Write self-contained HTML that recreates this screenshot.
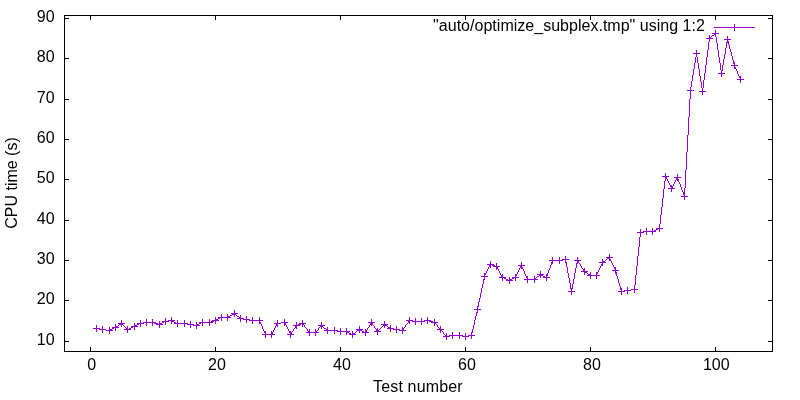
<!DOCTYPE html>
<html><head><meta charset="utf-8"><title>optimize_subplex</title>
<style>
html,body{margin:0;padding:0;background:#fff;}
svg{display:block;}
text{font-family:"Liberation Sans",Arial,sans-serif;font-size:16px;fill:#000;}
</style></head><body>
<svg width="800" height="400" viewBox="0 0 800 400">
<rect x="0" y="0" width="800" height="400" fill="#fff"/>
<g shape-rendering="crispEdges" stroke="#000" stroke-width="1" fill="none">
<rect x="64.5" y="15.5" width="708" height="336"/>
<path d="M64.5 341.5H69 M768 341.5H772.5"/>
<path d="M64.5 300.5H69 M768 300.5H772.5"/>
<path d="M64.5 260.5H69 M768 260.5H772.5"/>
<path d="M64.5 220.5H69 M768 220.5H772.5"/>
<path d="M64.5 179.5H69 M768 179.5H772.5"/>
<path d="M64.5 139.5H69 M768 139.5H772.5"/>
<path d="M64.5 99.5H69 M768 99.5H772.5"/>
<path d="M64.5 58.5H69 M768 58.5H772.5"/>
<path d="M64.5 18.5H69 M768 18.5H772.5"/>
<path d="M90.5 351.5V347 M90.5 15.5V20"/>
<path d="M215.5 351.5V347 M215.5 15.5V20"/>
<path d="M340.5 351.5V347 M340.5 15.5V20"/>
<path d="M465.5 351.5V347 M465.5 15.5V20"/>
<path d="M590.5 351.5V347 M590.5 15.5V20"/>
<path d="M715.5 351.5V347 M715.5 15.5V20"/>
</g>
<g text-anchor="end">
<text x="54.6" y="344.5">10</text>
<text x="54.6" y="303.5">20</text>
<text x="54.6" y="263.5">30</text>
<text x="54.6" y="223.5">40</text>
<text x="54.6" y="182.5">50</text>
<text x="54.6" y="142.5">60</text>
<text x="54.6" y="102.5">70</text>
<text x="54.6" y="61.5">80</text>
<text x="54.6" y="21.5">90</text>
</g>
<g text-anchor="middle">
<text x="91.6" y="369.5">0</text>
<text x="216.9" y="369.5">20</text>
<text x="341.9" y="369.5">40</text>
<text x="466.9" y="369.5">60</text>
<text x="591.9" y="369.5">80</text>
<text x="716.3" y="369.5">100</text>
<text x="373.1" y="391.5" text-anchor="start" textLength="89.5" lengthAdjust="spacing">Test number</text>
<text transform="translate(16.5,183) rotate(-90)">CPU time (s)</text>
</g>
<text x="433.1" y="30.5" textLength="271.8" lengthAdjust="spacing">"auto/optimize_subplex.tmp" using 1:2</text>
<g shape-rendering="crispEdges" stroke="#9400d3" stroke-width="1" fill="none">
<path d="M714 27.5H755"/>
<path d="M714 34.5h2M712 35.5h2M727 41.5h2M721 70.5h2M665 177.5h2M665 178.5h2M676 178.5h2M671 187.5h2M683 192.5h2M683 193.5h2M683 194.5h2M658 228.5h2M656 229.5h2M654 230.5h2M643 231.5h11M640 232.5h3M607 258.5h3M562 259.5h4M552 260.5h10M577 261.5h2M603 261.5h2M577 262.5h2M490 264.5h2M492 265.5h3M495 266.5h2M520 266.5h2M585 272.5h2M588 274.5h2M541 275.5h2M590 275.5h7M537 276.5h2M543 276.5h2M502 277.5h2M514 277.5h2M545 277.5h2M504 278.5h2M512 278.5h2M506 279.5h2M510 279.5h2M527 279.5h8M508 280.5h2M631 289.5h4M624 290.5h7M621 291.5h3M232 314.5h2M230 315.5h2M228 316.5h2M237 316.5h2M220 317.5h8M218 318.5h2M240 318.5h3M216 319.5h2M243 319.5h6M168 320.5h4M214 320.5h2M249 320.5h11M409 320.5h3M424 320.5h5M164 321.5h4M172 321.5h2M211 321.5h3M412 321.5h12M429 321.5h4M143 322.5h11M162 322.5h2M174 322.5h2M201 322.5h10M281 322.5h4M433 322.5h2M139 323.5h4M154 323.5h4M160 323.5h2M176 323.5h11M199 323.5h2M277 323.5h4M301 323.5h2M119 324.5h2M137 324.5h2M158 324.5h2M187 324.5h6M197 324.5h2M298 324.5h3M135 325.5h2M193 325.5h4M296 325.5h2M385 325.5h2M116 326.5h2M133 326.5h2M114 327.5h2M131 327.5h2M388 327.5h2M96 328.5h3M112 328.5h2M129 328.5h2M324 328.5h2M390 328.5h3M99 329.5h7M110 329.5h2M127 329.5h2M393 329.5h6M106 330.5h4M327 330.5h10M357 330.5h2M360 330.5h2M399 330.5h4M337 331.5h10M362 331.5h2M309 332.5h7M347 332.5h2M364 332.5h2M290 333.5h2M349 333.5h2M353 333.5h2M265 334.5h7M351 334.5h2M449 335.5h13M468 335.5h4M446 336.5h3M462 336.5h6M118.5 325v1M121.5 323v1M122.5 324v1M123.5 325v1M124.5 326v1M125.5 327v1M126.5 328v1M234.5 313v1M235.5 314v1M236.5 315v1M239.5 317v1M259.5 321v1M260.5 322v2M261.5 324v2M262.5 326v3M263.5 329v2M264.5 331v2M265.5 333v1M272.5 332v2M273.5 330v2M274.5 328v2M275.5 326v2M276.5 324v2M285.5 323v2M286.5 325v2M287.5 327v2M288.5 329v2M289.5 331v2M290.5 334v1M291.5 332v1M292.5 331v1M293.5 329v2M294.5 328v1M295.5 326v2M303.5 324v1M304.5 325v2M305.5 327v1M306.5 328v1M307.5 329v2M308.5 331v1M316.5 331v1M317.5 330v1M318.5 328v2M319.5 327v1M320.5 326v1M321.5 325v1M322.5 326v1M323.5 327v1M326.5 329v1M355.5 332v1M356.5 331v1M359.5 329v1M366.5 330v2M367.5 328v2M368.5 327v1M369.5 325v2M370.5 323v2M371.5 322v1M372.5 323v2M373.5 325v1M374.5 326v2M375.5 328v1M376.5 329v2M377.5 331v1M378.5 330v1M379.5 329v1M380.5 328v1M381.5 327v1M382.5 326v1M383.5 325v1M384.5 324v1M387.5 326v1M403.5 328v2M404.5 327v1M405.5 325v2M406.5 324v1M407.5 323v1M408.5 321v2M435.5 323v1M436.5 324v1M437.5 325v2M438.5 327v1M439.5 328v1M440.5 329v1M441.5 330v1M442.5 331v1M443.5 332v2M444.5 334v1M445.5 335v1M471.5 333v2M472.5 329v4M473.5 325v4M474.5 320v5M475.5 316v4M476.5 312v4M477.5 307v5M478.5 302v5M479.5 298v4M480.5 293v5M481.5 288v5M482.5 284v4M483.5 279v5M484.5 275v4M485.5 273v2M486.5 271v2M487.5 269v2M488.5 267v2M489.5 265v2M497.5 267v2M498.5 269v2M499.5 271v2M500.5 273v2M501.5 275v2M515.5 276v1M516.5 274v2M517.5 272v2M518.5 270v2M519.5 268v2M520.5 267v1M521.5 265v1M522.5 267v2M523.5 269v2M524.5 271v3M525.5 274v2M526.5 276v2M527.5 278v1M535.5 278v1M536.5 277v1M539.5 275v1M540.5 274v1M546.5 276v1M547.5 273v3M548.5 270v3M549.5 268v2M550.5 265v3M551.5 262v3M552.5 261v1M565.5 260v2M566.5 262v5M567.5 267v6M568.5 273v5M569.5 278v5M570.5 283v6M571.5 289v3M572.5 284v5M573.5 279v5M574.5 273v6M575.5 268v5M576.5 263v5M577.5 260v1M579.5 263v1M580.5 264v2M581.5 266v2M582.5 268v1M583.5 269v2M584.5 271v1M587.5 273v1M596.5 274v1M597.5 272v2M598.5 270v2M599.5 268v2M600.5 266v2M601.5 264v2M602.5 262v2M605.5 260v1M606.5 259v1M609.5 257v1M610.5 259v2M611.5 261v2M612.5 263v2M613.5 265v2M614.5 267v2M615.5 269v3M616.5 272v4M617.5 276v3M618.5 279v4M619.5 283v3M620.5 286v4M621.5 290v1M634.5 285v4M635.5 275v10M636.5 266v9M637.5 256v10M638.5 247v9M639.5 237v10M640.5 233v4M659.5 224v4M660.5 215v9M661.5 207v8M662.5 198v9M663.5 189v9M664.5 181v8M665.5 176v1M665.5 179v2M667.5 179v2M668.5 181v2M669.5 183v2M670.5 185v2M671.5 188v1M672.5 186v1M673.5 184v2M674.5 182v2M675.5 180v2M676.5 179v1M677.5 177v1M678.5 179v3M679.5 182v2M680.5 184v3M681.5 187v3M682.5 190v2M684.5 188v4M684.5 195v2M685.5 170v18M686.5 152v18M687.5 135v17M688.5 117v18M689.5 99v18M690.5 87v12M691.5 81v6M692.5 75v6M693.5 69v6M694.5 63v6M695.5 57v6M696.5 53v4M697.5 57v6M698.5 63v6M699.5 69v7M700.5 76v6M701.5 82v6M702.5 88v4M703.5 80v8M704.5 73v7M705.5 65v8M706.5 57v8M707.5 50v7M708.5 42v8M709.5 38v4M710.5 37v1M711.5 36v1M715.5 33v1M715.5 35v2M716.5 37v6M717.5 43v7M718.5 50v7M719.5 57v6M720.5 63v7M721.5 71v3M722.5 65v5M723.5 59v6M724.5 54v5M725.5 48v6M726.5 42v6M727.5 39v2M728.5 42v3M729.5 45v4M730.5 49v3M731.5 52v4M732.5 56v4M733.5 60v4M734.5 64v3M735.5 67v2M736.5 69v2M737.5 71v3M738.5 74v2M739.5 76v2M740.5 78v2"/>
<path d="M93 328.5h7M96.5 325v7M99 329.5h7M102.5 326v7M106 330.5h7M109.5 327v7M112 327.5h7M115.5 324v7M118 323.5h7M121.5 320v7M124 329.5h7M127.5 326v7M131 326.5h7M134.5 323v7M137 323.5h7M140.5 320v7M143 322.5h7M146.5 319v7M149 322.5h7M152.5 319v7M156 324.5h7M159.5 321v7M162 321.5h7M165.5 318v7M168 320.5h7M171.5 317v7M174 323.5h7M177.5 320v7M181 323.5h7M184.5 320v7M187 324.5h7M190.5 321v7M193 325.5h7M196.5 322v7M199 322.5h7M202.5 319v7M206 322.5h7M209.5 319v7M212 320.5h7M215.5 317v7M218 317.5h7M221.5 314v7M224 317.5h7M227.5 314v7M231 313.5h7M234.5 310v7M237 318.5h7M240.5 315v7M243 319.5h7M246.5 316v7M249 320.5h7M252.5 317v7M256 320.5h7M259.5 317v7M262 334.5h7M265.5 331v7M268 334.5h7M271.5 331v7M274 323.5h7M277.5 320v7M281 322.5h7M284.5 319v7M287 334.5h7M290.5 331v7M293 325.5h7M296.5 322v7M299 323.5h7M302.5 320v7M306 332.5h7M309.5 329v7M312 332.5h7M315.5 329v7M318 325.5h7M321.5 322v7M324 330.5h7M327.5 327v7M331 330.5h7M334.5 327v7M337 331.5h7M340.5 328v7M343 331.5h7M346.5 328v7M349 334.5h7M352.5 331v7M356 329.5h7M359.5 326v7M362 332.5h7M365.5 329v7M368 322.5h7M371.5 319v7M374 331.5h7M377.5 328v7M381 324.5h7M384.5 321v7M387 328.5h7M390.5 325v7M393 329.5h7M396.5 326v7M399 330.5h7M402.5 327v7M406 320.5h7M409.5 317v7M412 321.5h7M415.5 318v7M418 321.5h7M421.5 318v7M424 320.5h7M427.5 317v7M431 322.5h7M434.5 319v7M437 329.5h7M440.5 326v7M443 336.5h7M446.5 333v7M449 335.5h7M452.5 332v7M456 335.5h7M459.5 332v7M462 336.5h7M465.5 333v7M468 335.5h7M471.5 332v7M474 309.5h7M477.5 306v7M481 276.5h7M484.5 273v7M487 264.5h7M490.5 261v7M493 266.5h7M496.5 263v7M499 277.5h7M502.5 274v7M506 280.5h7M509.5 277v7M512 277.5h7M515.5 274v7M518 265.5h7M521.5 262v7M524 279.5h7M527.5 276v7M531 279.5h7M534.5 276v7M537 274.5h7M540.5 271v7M543 277.5h7M546.5 274v7M549 260.5h7M552.5 257v7M556 260.5h7M559.5 257v7M562 259.5h7M565.5 256v7M568 291.5h7M571.5 288v7M574 260.5h7M577.5 257v7M581 271.5h7M584.5 268v7M587 275.5h7M590.5 272v7M593 275.5h7M596.5 272v7M599 262.5h7M602.5 259v7M606 257.5h7M609.5 254v7M612 270.5h7M615.5 267v7M618 291.5h7M621.5 288v7M624 290.5h7M627.5 287v7M631 289.5h7M634.5 286v7M637 232.5h7M640.5 229v7M643 231.5h7M646.5 228v7M649 231.5h7M652.5 228v7M656 228.5h7M659.5 225v7M662 176.5h7M665.5 173v7M668 188.5h7M671.5 185v7M674 177.5h7M677.5 174v7M681 196.5h7M684.5 193v7M687 90.5h7M690.5 87v7M693 53.5h7M696.5 50v7M699 91.5h7M702.5 88v7M706 38.5h7M709.5 35v7M712 33.5h7M715.5 30v7M718 73.5h7M721.5 70v7M724 39.5h7M727.5 36v7M731 65.5h7M734.5 62v7M737 79.5h7M740.5 76v7M731 27.5h7M734.5 24v7"/>
</g>
</svg>
</body></html>
